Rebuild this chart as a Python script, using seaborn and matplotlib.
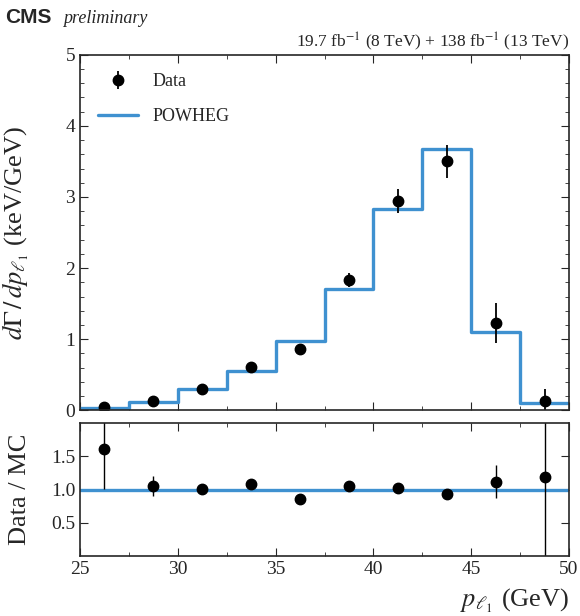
import matplotlib
matplotlib.use("Agg")
import matplotlib.pyplot as plt
import numpy as np
import seaborn as sns
from matplotlib.ticker import MultipleLocator

# bins in leading lepton pT (GeV)
bin_edges = [25, 27.5, 30, 32.5, 35, 37.5, 40, 42.5, 45, 47.5, 50]
bin_centers = [26.25, 28.75, 31.25, 33.75, 36.25, 38.75, 41.25, 43.75, 46.25, 48.75]

# POWHEG prediction (keV/GeV)
powheg = [0.03, 0.117, 0.295, 0.556, 0.98, 1.71, 2.83, 3.68, 1.10, 0.108]

# measured data (keV/GeV) and uncertainties
data = [0.048, 0.126, 0.30, 0.61, 0.86, 1.83, 2.94, 3.50, 1.23, 0.135]
data_err = [0.02, 0.03, 0.04, 0.05, 0.06, 0.10, 0.17, 0.23, 0.28, 0.17]

# ratio data / MC
ratio = [1.61, 1.06, 1.01, 1.08, 0.86, 1.06, 1.03, 0.94, 1.12, 1.19]
ratio_err = [0.60, 0.15, 0.04, 0.05, 0.05, 0.05, 0.05, 0.06, 0.25, 1.40]

blue = "#3f91d0"

sns.set_style("ticks")
plt.rcParams["font.family"] = ["Liberation Serif", "DejaVu Serif"]
plt.rcParams["mathtext.fontset"] = "stix"
plt.rcParams["xtick.direction"] = "in"
plt.rcParams["ytick.direction"] = "in"

fig = plt.figure(figsize=(5.8, 6.16), dpi=100)
ax = fig.add_axes([0.138, 0.334, 0.843, 0.577])
rax = fig.add_axes([0.138, 0.097, 0.843, 0.216])

# step histogram for POWHEG
step_x = bin_edges
step_y = powheg + [powheg[-1]]
sns.lineplot(x=step_x, y=step_y, drawstyle="steps-post", color=blue, lw=2.4,
             estimator=None, ax=ax, label="POWHEG")
ax.errorbar(bin_centers, data, yerr=data_err, fmt="o", color="black",
            markersize=7.5, elinewidth=1.3, capsize=0, label="Data")

ax.set_xlim(25, 50)
ax.set_ylim(0, 5)
ax.set_xticklabels([])
ax.xaxis.set_major_locator(MultipleLocator(5))
ax.xaxis.set_minor_locator(MultipleLocator(2.5))
ax.yaxis.set_major_locator(MultipleLocator(1))
ax.yaxis.set_minor_locator(MultipleLocator(0.2))
ax.tick_params(which="both", top=True, right=True, labelsize=14)
ax.tick_params(which="major", length=6)
ax.tick_params(which="minor", length=3)
ax.set_ylabel(r"$d\Gamma\,/\,dp_{\ell_1}$ (keV/GeV)", fontsize=19)
ax.set_xlabel("")

handles, labels = ax.get_legend_handles_labels()
order = [labels.index("Data"), labels.index("POWHEG")]
ax.legend([handles[i] for i in order], [labels[i] for i in order],
          loc="upper left", frameon=False, fontsize=13, handlelength=2.2,
          borderaxespad=0.6, labelspacing=1.0)

# ratio panel
sns.lineplot(x=[25, 50], y=[1.0, 1.0], color=blue, lw=2.4, ax=rax)
rax.errorbar(bin_centers, ratio, yerr=ratio_err, fmt="o", color="black",
             markersize=7.5, elinewidth=1.0, capsize=0)
rax.set_xlim(25, 50)
rax.set_ylim(0, 2)
rax.set_yticks([0.5, 1.0, 1.5])
rax.set_yticklabels(["0.5", "1.0", "1.5"])
rax.xaxis.set_major_locator(MultipleLocator(5))
rax.xaxis.set_minor_locator(MultipleLocator(2.5))
rax.tick_params(which="both", top=True, right=True, labelsize=14)
rax.tick_params(which="major", length=6)
rax.tick_params(which="minor", length=3)
rax.set_ylabel("Data / MC", fontsize=19)
rax.set_xlabel(r"$p_{\ell_1}$ (GeV)", fontsize=19, loc="right", labelpad=6)
rax.yaxis.set_label_coords(-0.1, 0.5)
ax.yaxis.set_label_coords(-0.1, 0.5)

for a in (ax, rax):
    for s in a.spines.values():
        s.set_linewidth(1.2)

fig.text(0.008, 0.962, "CMS", fontsize=15, fontweight="bold",
         family="Liberation Sans", va="baseline")
fig.text(0.108, 0.962, "preliminary", fontsize=13, style="italic", va="baseline")
fig.text(0.981, 0.924,
         r"19.7 fb$^{-1}$ (8 TeV) + 138 fb$^{-1}$ (13 TeV)",
         fontsize=12.5, ha="right", va="baseline")

fig.savefig("out.png", dpi=100)
